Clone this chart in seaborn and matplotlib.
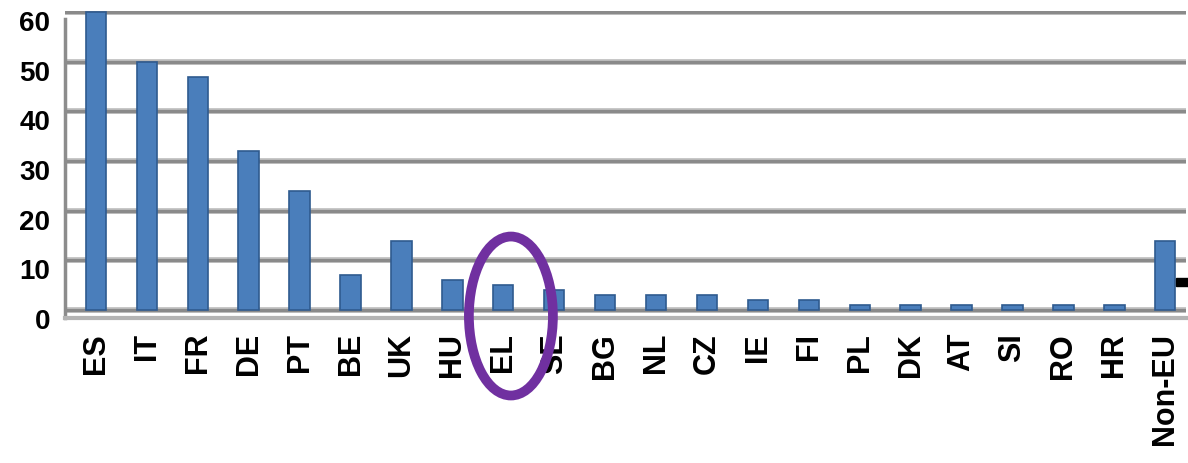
import numpy as np
import pandas as pd
import seaborn as sns
import matplotlib.pyplot as plt
import matplotlib.transforms as mtrans
from matplotlib.patches import Ellipse, Rectangle

# data
countries = ['ES', 'IT', 'FR', 'DE', 'PT', 'BE', 'UK', 'HU', 'EL', 'SE', 'BG',
             'NL', 'CZ', 'IE', 'FI', 'PL', 'DK', 'AT', 'SI', 'RO', 'HR', 'Non-EU']
values = [60, 50, 47, 32, 24, 7, 14, 6, 5, 4, 3, 3, 3, 2, 2, 1, 1, 1, 1, 1, 1, 14]
yticks = [0, 10, 20, 30, 40, 50, 60]
highlight = 'EL'

df = pd.DataFrame({'country': countries, 'value': values})

sns.set_style("white")
plt.rcParams['font.family'] = ['Liberation Sans', 'DejaVu Sans']

fig = plt.figure(figsize=(11.88, 4.64), dpi=100)
ax = fig.add_axes([0.055, 0.3125, 0.943, 0.6627])

# back-wall gridlines (light rim + darker core)
for t in yticks:
    ax.axhline(t, color='#c4c4c4', lw=4.2, zorder=0)
    ax.axhline(t, color='#8a8a8a', lw=2.4, zorder=0)

sns.barplot(data=df, x='country', y='value', ax=ax, color='#4a7ebb',
            edgecolor='#2f5b8f', linewidth=1.2, width=0.4, saturation=1, zorder=3)

ax.set_xlim(-0.6, 21.4)
ax.set_ylim(-1.6, 60.3)
ax.set_yticks(yticks)
ax.set_xlabel('')
ax.set_ylabel('')

for s in ['top', 'right']:
    ax.spines[s].set_visible(False)
ax.spines['left'].set_color('#8c8c8c')
ax.spines['left'].set_linewidth(2.5)
ax.spines['left'].set_bounds(-1.6, 58.5)
ax.spines['bottom'].set_color('#b4b4b4')
ax.spines['bottom'].set_linewidth(3)

ax.tick_params(axis='y', length=7, width=2.5, color='#8c8c8c', pad=4,
               labelsize=20)
ax.tick_params(axis='x', which='major', length=0, pad=10, labelsize=22,
               labelrotation=90)
ax.set_xticks(np.arange(-0.5, 21.5, 1), minor=True)
ax.tick_params(axis='x', which='minor', length=13, width=2.5, color='#8c8c8c')

# front axis labels sit a bit lower than the back wall gridlines
shift = mtrans.ScaledTranslation(0, -8 / 100, fig.dpi_scale_trans)
for lab in ax.get_yticklabels():
    lab.set_transform(lab.get_transform() + shift)
for line in ax.yaxis.get_ticklines():
    line.set_transform(line.get_transform() + shift)
for lab in ax.get_xticklabels() + ax.get_yticklabels():
    lab.set_fontweight('bold')
    lab.set_color('black')

# purple ring around the highlighted country
xi = countries.index(highlight)
ax.add_patch(Ellipse((xi + 0.15, -1.2), width=1.65, height=32, fill=False,
                     edgecolor='#7030a0', lw=7, clip_on=False, zorder=5))

# cut-off legend key at the right edge
fig.patches.append(Rectangle((1176 / 1188, 1 - 287 / 464), 12 / 1188, 8 / 464,
                             transform=fig.transFigure, color='black'))

fig.savefig('out.png', dpi=100)
